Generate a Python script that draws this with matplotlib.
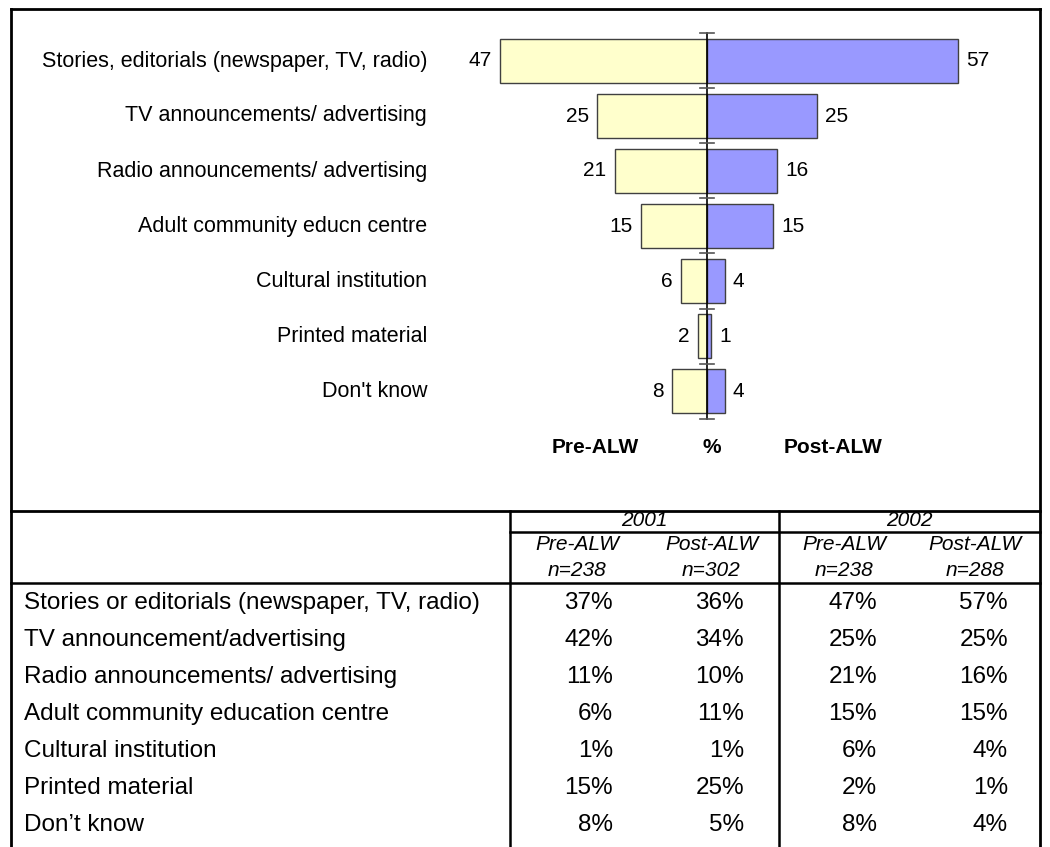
import matplotlib
matplotlib.use("Agg")
import matplotlib.pyplot as plt
import numpy as np
from matplotlib.lines import Line2D
from matplotlib.transforms import blended_transform_factory

plt.rcParams["font.family"] = ["Liberation Sans", "DejaVu Sans"]

W, H = 1050, 847

# chart: where people heard about ALW, 2002 survey (%)
categories = [
    "Stories, editorials (newspaper, TV, radio)",
    "TV announcements/ advertising",
    "Radio announcements/ advertising",
    "Adult community educn centre",
    "Cultural institution",
    "Printed material",
    "Don't know",
]
pre_2002 = [47, 25, 21, 15, 6, 2, 8]
post_2002 = [57, 25, 16, 15, 4, 1, 4]

# table underneath: both survey years
table_rows = [
    "Stories or editorials (newspaper, TV, radio)",
    "TV announcement/advertising",
    "Radio announcements/ advertising",
    "Adult community education centre",
    "Cultural institution",
    "Printed material",
    "Don\u2019t know",
]
pre_2001 = [37, 42, 11, 6, 1, 15, 8]
post_2001 = [36, 34, 10, 11, 1, 25, 5]
years = ["2001", "2002"]
groups = ["Pre-ALW", "Post-ALW"]
sample_sizes = ["n=238", "n=302", "n=238", "n=288"]

YELLOW = "#FFFFCC"
BLUE = "#9999FF"


def fx(x):
    return x / W


def fy(y):
    return 1 - y / H


def hline(fig, x0, x1, y, lw=1.8):
    fig.add_artist(Line2D([fx(x0), fx(x1)], [fy(y), fy(y)], color="black",
                          lw=lw, transform=fig.transFigure, solid_capstyle="projecting"))


def vline(fig, x, y0, y1, lw=1.8):
    fig.add_artist(Line2D([fx(x), fx(x)], [fy(y0), fy(y1)], color="black",
                          lw=lw, transform=fig.transFigure, solid_capstyle="projecting"))


fig = plt.figure(figsize=(W / 100, H / 100), dpi=100)
fig.patch.set_facecolor("white")

# --- butterfly chart -------------------------------------------------------
ax_l, ax_r, ax_t, ax_b = 440, 1000, 20, 430
center, ppu = 707, 4.4           # zero line position (px) and px per percent
row0, row_step = 61, 55          # first bar centre and bar pitch (px)
ax = fig.add_axes([fx(ax_l), fy(ax_b), (ax_r - ax_l) / W, (ax_b - ax_t) / H])
ax.set_xlim((ax_l - center) / ppu, (ax_r - center) / ppu)
ax.set_ylim((ax_b - row0) / row_step, (ax_t - row0) / row_step)
ax.axis("off")

y = np.arange(len(categories))
ax.barh(y, [-v for v in pre_2002], height=0.8, color=YELLOW,
        edgecolor="#404040", linewidth=1.0, zorder=2)
ax.barh(y, post_2002, height=0.8, color=BLUE,
        edgecolor="#404040", linewidth=1.0, zorder=2)

ax.plot([0, 0], [-0.5, len(categories) - 0.5], color="black", lw=1.2, zorder=3)
for b in np.arange(-0.5, len(categories)):
    ax.plot([-1.5, 1.5], [b, b], color="#555555", lw=1.2, zorder=3)

for i, (a, b) in enumerate(zip(pre_2002, post_2002)):
    ax.annotate(str(a), (-a, i), xytext=(-6, 0), textcoords="offset points",
                ha="right", va="center", fontsize=15)
    ax.annotate(str(b), (b, i), xytext=(6, 0), textcoords="offset points",
                ha="left", va="center", fontsize=15)

trans = blended_transform_factory(fig.transFigure, ax.transData)
for i, cat in enumerate(categories):
    ax.text(fx(427), i, cat, transform=trans, ha="right", va="center",
            fontsize=15.5)

for x, s in [(595, "Pre-ALW"), (712, "%"), (833, "Post-ALW")]:
    fig.text(fx(x), fy(447), s, ha="center", va="center", fontsize=15,
             fontweight="bold")

# --- frame and table grid ----------------------------------------------------
left, right, top = 11, 1040, 9
tbl_top, year_line, head_line = 511, 532, 583
col1, col_mid = 510, 779
hline(fig, left, right, top, lw=2.0)
vline(fig, left, top, H + 5, lw=2.0)
vline(fig, right, top, H + 5, lw=2.0)
hline(fig, left, right, tbl_top, lw=2.0)
hline(fig, col1, right, year_line)
hline(fig, left, right, head_line)
vline(fig, col1, tbl_top, H + 5)
vline(fig, col_mid, tbl_top, H + 5)

# --- table header ------------------------------------------------------------
sub_edges = [510, 644, 779, 910, 1040]
for k, yr in enumerate(years):
    xc = (sub_edges[2 * k] + sub_edges[2 * k + 2]) / 2
    fig.text(fx(xc), fy(521), yr, ha="center", va="center", fontsize=15,
             style="italic")
for k in range(4):
    xc = (sub_edges[k] + sub_edges[k + 1]) / 2
    fig.text(fx(xc), fy(545), groups[k % 2], ha="center", va="center",
             fontsize=15, style="italic")
    fig.text(fx(xc), fy(570), sample_sizes[k], ha="center", va="center",
             fontsize=15, style="italic")

# --- table body --------------------------------------------------------------
value_right = [613, 744, 877, 1008]
columns = [pre_2001, post_2001, pre_2002, post_2002]
for i, label in enumerate(table_rows):
    yy = 603 + 37 * i
    fig.text(fx(24), fy(yy), label, ha="left", va="center", fontsize=17.5)
    for xr, col in zip(value_right, columns):
        fig.text(fx(xr), fy(yy), f"{col[i]}%", ha="right", va="center",
                 fontsize=17.5)

fig.savefig("out.png", dpi=100, facecolor="white")
